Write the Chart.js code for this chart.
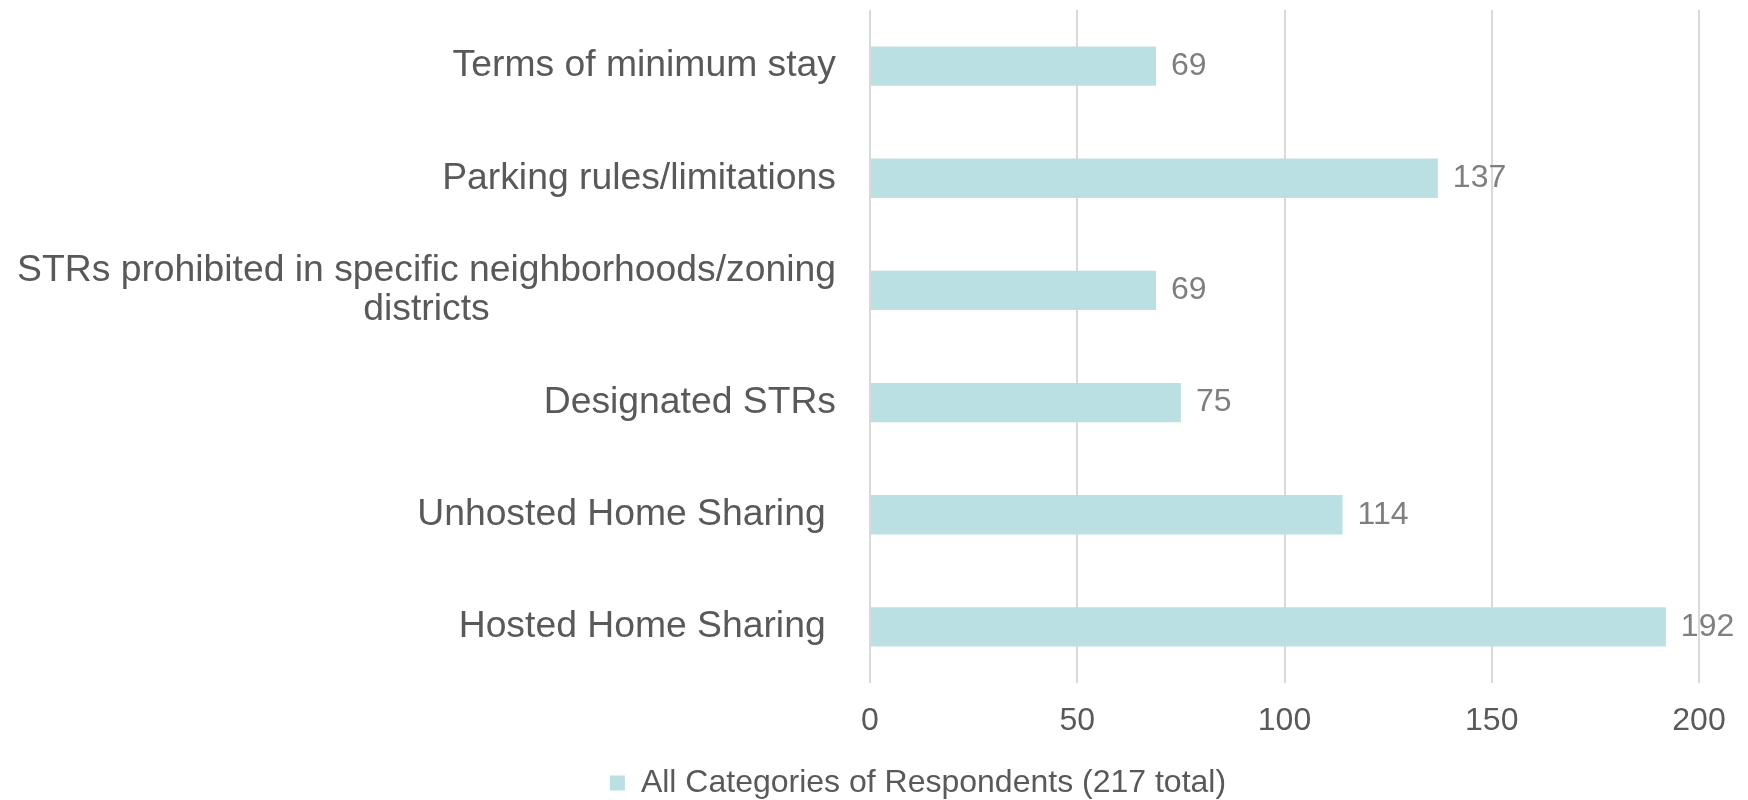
<!DOCTYPE html>
<html>
<head>
<meta charset="utf-8">
<script src="https://cdn.jsdelivr.net/npm/chart.js@4.4.0/dist/chart.umd.min.js"></script>
<style>
  html, body { margin: 0; padding: 0; background: #ffffff; }
  #wrap { width: 1748px; height: 800px; position: relative; }
</style>
</head>
<body>
<div id="wrap"><canvas id="myChart"></canvas></div>
<script>
// datos del grafico
const categories = [
    'Terms of minimum stay',
    'Parking rules/limitations',
    ['STRs prohibited in specific neighborhoods/zoning', 'districts'],
    'Designated STRs',
    'Unhosted Home Sharing ',
    'Hosted Home Sharing '
];
const respondents = [69, 137, 69, 75, 114, 192];
const xTicks = [0, 50, 100, 150, 200];
const seriesName = 'All Categories of Respondents (217 total)';

const fontFamily = '"Liberation Sans", Arial, sans-serif';

// etiquetas de categoria (la de dos lineas va centrada como en Excel)
const categoryLabels = {
    id: 'categoryLabels',
    afterDraw(chart) {
        const ctx = chart.ctx;
        const yScale = chart.scales.y;
        const right = chart.chartArea.left - 34;
        ctx.save();
        ctx.font = '37.3px ' + fontFamily;
        ctx.fillStyle = '#595959';
        ctx.textBaseline = 'middle';
        categories.forEach((label, i) => {
            const y = yScale.getPixelForTick(i);
            if (Array.isArray(label)) {
                const maxW = Math.max(...label.map(l => ctx.measureText(l).width));
                const cx = right - maxW / 2;
                const lineH = 39;
                const start = y - (label.length - 1) * lineH / 2;
                ctx.textAlign = 'center';
                label.forEach((l, j) => ctx.fillText(l, cx, start + j * lineH));
            } else {
                ctx.textAlign = 'right';
                ctx.fillText(label, right, y);
            }
        });
        ctx.restore();
    }
};

// valores al final de cada barra
const valueLabels = {
    id: 'valueLabels',
    afterDatasetsDraw(chart) {
        const ctx = chart.ctx;
        const meta = chart.getDatasetMeta(0);
        ctx.save();
        ctx.font = '32px ' + fontFamily;
        ctx.fillStyle = '#7f7f7f';
        ctx.textAlign = 'left';
        ctx.textBaseline = 'middle';
        meta.data.forEach((bar, i) => {
            ctx.fillText(respondents[i], bar.x + 15, bar.y);
        });
        ctx.restore();
    }
};

const ctx = document.getElementById('myChart');

const myChart = new Chart(ctx, {
    type: 'bar',
    data: {
        labels: categories,
        datasets: [{
            label: seriesName,
            data: respondents,
            backgroundColor: '#bbe0e3',
            borderWidth: 0,
            barPercentage: 0.35,
            categoryPercentage: 1
        }]
    },
    options: {
        indexAxis: 'y',
        responsive: true,
        maintainAspectRatio: false,
        animation: false,
        layout: {
            padding: { left: 137, right: 49, top: 10, bottom: -9 }
        },
        plugins: {
            tooltip: { enabled: false },
            legend: {
                position: 'bottom',
                labels: {
                    color: '#595959',
                    boxWidth: 15,
                    boxHeight: 15,
                    padding: 4,
                    font: { family: fontFamily, size: 32 }
                }
            }
        },
        scales: {
            x: {
                min: xTicks[0],
                max: xTicks[xTicks.length - 1],
                afterBuildTicks: (scale) => {
                    scale.ticks = xTicks.map(v => ({ value: v }));
                },
                afterFit: (scale) => { scale.height = 80; },
                grid: {
                    color: '#d9d9d9',
                    lineWidth: 2,
                    drawTicks: false
                },
                border: { display: false },
                ticks: {
                    color: '#595959',
                    padding: 19,
                    font: { family: fontFamily, size: 32 }
                }
            },
            y: {
                afterFit: (scale) => { scale.width = 733; },
                grid: { display: false },
                border: { display: false },
                ticks: { display: false }
            }
        }
    },
    plugins: [categoryLabels, valueLabels]
});
</script>
</body>
</html>
